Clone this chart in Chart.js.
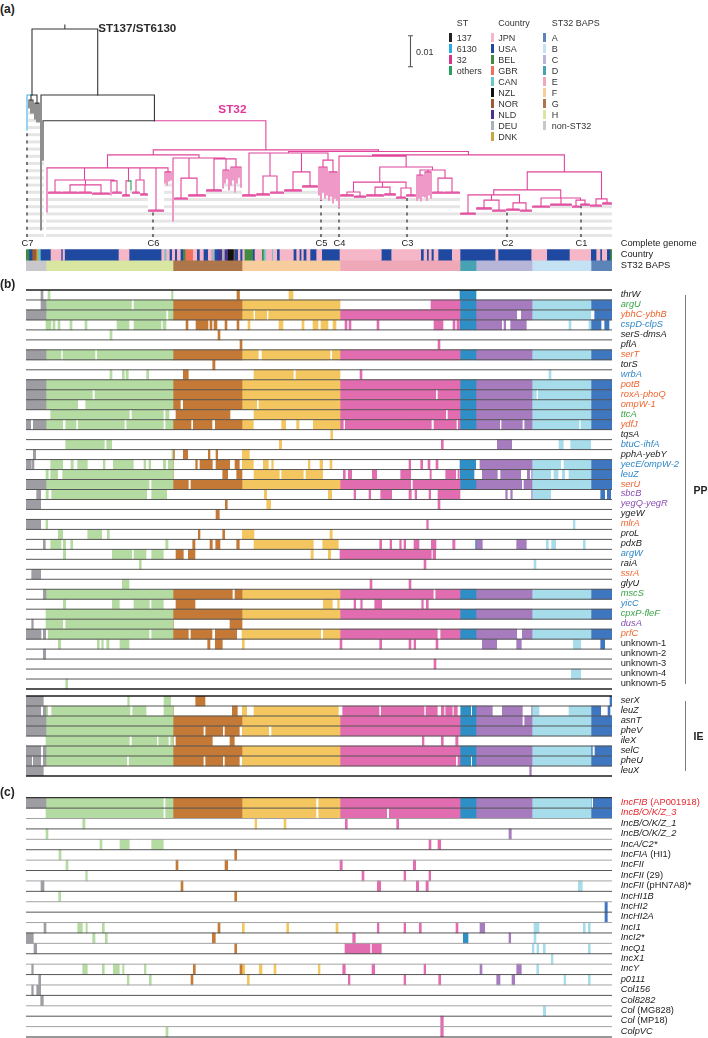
<!DOCTYPE html>
<html><head><meta charset="utf-8">
<script src="https://cdn.jsdelivr.net/npm/chart.js@4.4.1/dist/chart.umd.min.js"></script>
<style>
body{margin:0;background:#fff;}
#fig{position:relative;width:708px;height:1038px;overflow:hidden;background:#fff;font-family:"Liberation Sans",Arial,Helvetica,sans-serif;color:#222;}
.t{position:absolute;white-space:nowrap;line-height:1;}
.sw{position:absolute;}
</style></head><body><div id="fig"></div>
<script>
// ---------------- DATA ----------------
// isolate axis (tree order), position units 0..586
const axisEnd = 586;
const clusterNames = ['non-ST32','H','G','F','E','D','C','B','A'];
const clusterStarts = [0,20,147,216,314,434,450,506,565];
const clusterMatrixColors = ['#9d9da3','#b4dba1','#c47a36','#f3c660','#e16db0','#2e8fc6','#a67cbe','#a7dcea','#3f76c0'];
const clusterStripColors  = ['#c8c8cc','#d9e6a2','#ad774b','#f7cd9e','#efa8b7','#47a3b3','#b7b5d8','#c5e2f4','#5c84b8'];

const stLegend = ['137','6130','32','others'];
const stColors = ['#222222','#2aaae2','#d8338c','#26a05a'];
const countryCodes  = ['JPN','USA','BEL','GBR','CAN','NZL','NOR','NLD','DEU','DNK'];
const countryColors = ['#f5b7c7','#1f48a1','#3f8b40','#f0705b','#6ac7c6','#111111','#9b5a33','#4b318c','#a9b1bc','#cba443'];
const countrySegments = [
 [0,3.5,'BEL'],[3.5,6,'USA'],[6,10,'NOR'],[10,12.5,'DNK'],[12.5,15,'CAN'],[15,25,'USA'],[25,35,'JPN'],[35,37,'USA'],[37,38.5,'JPN'],
 [38.5,93,'USA'],[93,103,'JPN'],[103,135.7,'USA'],[135.7,138,'JPN'],[138,139,'DEU'],[139,140.7,'CAN'],[140.7,143.3,'JPN'],
 [143.3,146.3,'USA'],[146.3,148.7,'JPN'],[148.7,151.3,'USA'],[151.3,154.3,'JPN'],[154.3,156.7,'USA'],[156.7,159,'BEL'],
 [159,167.3,'GBR'],[167.3,170.7,'JPN'],[170.7,174,'USA'],[174,177.3,'JPN'],[177.3,182.3,'USA'],[182.3,185,'JPN'],[185,189,'DEU'],
 [189,192.3,'USA'],[192.3,195.7,'NLD'],[195.7,199,'DEU'],[199,202.3,'NLD'],[202.3,207.3,'NZL'],[207.3,209,'NOR'],[209,212.3,'USA'],
 [212.3,214,'JPN'],[214,216.7,'USA'],[216.7,218.3,'JPN'],[218.3,227.3,'BEL'],[227.3,229,'USA'],[229,235.7,'JPN'],[235.7,237.3,'BEL'],
 [237.3,240,'CAN'],[240,245.7,'JPN'],[245.7,247.3,'CAN'],[247.3,250.7,'JPN'],[250.7,254,'USA'],[254,267.3,'JPN'],[267.3,270.7,'USA'],
 [270.7,273.3,'JPN'],[273.3,275.7,'USA'],[275.7,277.3,'JPN'],[277.3,280.7,'USA'],[280.7,284,'JPN'],[284,290.7,'USA'],[290.7,295.7,'JPN'],
 [295.7,314,'USA'],[314,355.3,'JPN'],[355.3,365.7,'USA'],[365.7,394.7,'JPN'],[394.7,398,'USA'],[398,400.7,'JPN'],[400.7,403,'USA'],
 [403,405.3,'JPN'],[405.3,408,'USA'],[408,412,'JPN'],[412,426.3,'USA'],[426.3,434,'JPN'],[434,469.7,'USA'],[469.7,472,'JPN'],
 [472,505.7,'USA'],[505.7,520.7,'JPN'],[520.7,544,'USA'],[544,564.7,'JPN'],[564.7,570.7,'USA'],[570.7,574,'JPN'],[574,576.3,'USA'],
 [576.3,580.7,'JPN'],[580.7,584,'USA'],[584,586,'BEL']
];

// complete genomes (isolate positions) and labels
const genomeIsolates = [555,481,381,313,295,127,1];
const genomeLabels   = ['C1','C2','C3','C4','C5','C6','C7'];

// tree: depth in units of 0.001 substitutions/site; leaf {u:isolate, t:tip depth, s:ST}; comb {c:[first,last], d, t}
const st137Clade = {d:21.3, k:[
  {u:1, t:32.6, s:'6130'},
  {d:22.9, k:[{u:3,t:25.5,s:'137'},{u:5,t:27.1,s:'137'},{u:7,t:27.1,s:'137'}]},
  {d:23.9, k:[{u:9,t:29.0,s:'137'},{u:11,t:30.0,s:'137'},{u:13,t:30.0,s:'137'}]}
]};
const cladeH = {d:44.8, k:[
  {u:21, t:59.0},
  {d:48.7, k:[
    {c:[23,35], d:52.6, t:53.2},
    {d:50.3, k:[{c:[37,51], d:52.6, t:53.2},{c:[53,65], d:52.6, t:53.2},{c:[67,83], d:52.9, t:53.5}]},
    {d:49.0, k:[{u:85, t:53.5},{c:[87,95], d:52.6, t:53.2}]}
  ]},
  {d:49.0, k:[{c:[97,103], d:53.5, t:54.1},{u:105, t:51.9, s:'oth'}]},
  {d:48.7, k:[{c:[107,113], d:52.6, t:53.2},{c:[115,121], d:53.2, t:53.8}]},
  {c:[123,137], d:58.4, t:59.0},
  {d:46.1, k:[{u:139,t:49.7},{u:141,t:50.3},{u:143,t:49.0},{u:145,t:48.7}]}
]};
const cladeG = {d:41.6, k:[
  {u:147, t:61.9},
  {d:48.1, k:[{c:[149,161], d:54.5, t:55.1},{c:[163,179], d:53.5, t:54.1}]},
  {d:41.9, k:[
    {c:[181,195], d:51.9, t:52.5},
    {d:45.5, k:[{u:197,t:51.3},{u:199,t:49.7},{u:201,t:48.1},{u:203,t:51.9}]},
    {d:44.5, k:[{u:205,t:50.3},{u:207,t:48.7},{u:209,t:52.6},{u:211,t:49.7},{u:213,t:47.7},{u:215,t:51.0}]}
  ]}
]};
const cladeF = {d:40.0, k:[
  {c:[217,229], d:53.5, t:54.1},
  {d:47.4, k:[{c:[231,243], d:53.2, t:53.8},{c:[245,257], d:52.6, t:53.2}]},
  {d:46.1, k:[{c:[259,275], d:51.9, t:52.5},{c:[277,291], d:50.6, t:51.2}]},
  {d:42.3, k:[
    {d:44.5, k:[{u:293,t:53.5},{u:295,t:55.2},{u:297,t:52.6},{u:299,t:54.5},{u:301,t:53.5}]},
    {d:46.1, k:[{u:303,t:55.2},{u:305,t:53.9},{u:307,t:56.1},{u:309,t:54.5},{u:311,t:55.2}]}
  ]}
]};
const cladeE = {d:41.0, k:[
  {u:313, t:57.7},
  {d:44.5, k:[
    {d:49.4, k:[
      {d:52.6, k:[{c:[315,327], d:53.5, t:54.1},{c:[329,339], d:53.9, t:54.5}]},
      {d:51.0, k:[{c:[341,357], d:53.5, t:54.1},{c:[359,369], d:53.2, t:53.8}]},
      {d:51.3, k:[{c:[371,379], d:54.2, t:54.8},{c:[381,389], d:53.5, t:54.1}]}
    ]},
    {d:45.5, k:[
      {d:47.1, k:[{u:391,t:55.2},{u:393,t:54.5},{u:395,t:55.5},{u:397,t:53.9}]},
      {d:46.1, k:[{u:399,t:54.2},{u:401,t:55.2},{u:403,t:53.5},{u:405,t:54.5}]},
      {d:48.1, k:[{c:[407,417], d:52.6, t:53.2},{c:[419,433], d:52.6, t:53.2}]}
    ]}
  ]}
]};
const cladeDCBA = {d:46.1, k:[
  {d:51.9, k:[
    {d:53.5, k:[
      {c:[435,449], d:59.4, t:60.0},
      {d:55.2, k:[{c:[451,465], d:57.7, t:58.3},{c:[467,479], d:58.4, t:59.0}]},
      {d:56.1, k:[{c:[481,493], d:58.1, t:58.7},{c:[495,505], d:58.4, t:59.0}]}
    ]},
    {d:54.5, k:[
      {c:[507,523], d:57.1, t:57.7},
      {c:[525,545], d:56.5, t:57.1},
      {d:55.2, k:[{c:[547,553], d:57.1, t:57.7},{c:[555,563], d:56.5, t:57.1}]}
    ]}
  ]},
  {d:54.8, k:[{c:[565,575], d:56.8, t:57.4},{c:[577,585], d:56.1, t:56.7}]}
]};
const st32Root = {d:39.0, k:[
  {d:40.6, k:[cladeH, cladeG]},
  {d:39.5, k:[cladeF, {d:40.6, k:[cladeE, cladeDCBA]}]}
]};
const treeRoot = {d:0, k:[
  st137Clade,
  {d:21.3, k:[{u:15, t:64.8, s:'137'}, {d:29.6, k:[{u:17, t:42.3, s:'137'}, st32Root]}]}
]};
const rootStemDepth = -1.3;
const treeBaseDepth = 67.1;
const scaleBarValue = 10; // 0.01 substitutions/site

// panel (b): gene presence (PP)
const ppGenes = ['thrW','argU','ybhC-ybhB','cspD-clpS','serS-dmsA','pflA','serT','torS','wrbA','potB','roxA-phoQ','ompW-1','ttcA','ydfJ','tqsA','btuC-ihfA','pphA-yebY','yecE/ompW-2','leuZ','serU','sbcB','yegQ-yegR','ygeW','mlrA','proL','pdxB','argW','raiA','ssrA','glyU','mscS','yicC','cpxP-fleF','dusA','prfC','unknown-1','unknown-2','unknown-3','unknown-4','unknown-5'];
const ppLabelColors = ['k','g','o','b','k','k','o','k','b','o','o','o','g','o','k','b','k','b','b','o','p','p','k','o','k','k','b','k','o','k','g','b','g','p','o','k','k','k','k','k'];
const ppPresence = [
 [[15,17],[22,24],[145.5,147],[211,213.5],[263,267],[434,450]],
 [[15,105.5],[108,314],[405,586]],
 [[0,140],[142.5,227.3],[229.3,240.7],[242.7,490.7],[495.3,564.7],[568.7,586]],
 [[20,25],[27,29],[32,34],[44,46],[59,61],[91,103],[108,135],[137,140],[160,162],[170,182],[184,186],[188,191],[199,201],[211,213],[222,224],[253,257],[276,278],[287,292],[295,302],[307,310],[319,321],[323,325],[351,353],[408,417],[427,429],[431,433.5],[434,475.7],[478,479.7],[484.7,500.3],[543,545],[563,575],[578.7,583]],
 [[84,86],[192,194]],
 [[214,216],[412,414]],
 [[0,35],[37,69],[71.3,232.3],[236,304],[306.3,586]],
 [[186.7,189]],
 [[84,86],[96.3,98.3],[100,102.3],[120.7,122.7],[157.3,162.3],[228,267.3],[270,314],[334,336],[523,525]],
 [[0,586]],
 [[0,66.3],[69,409.7],[412,510.3],[512.3,586]],
 [[0,51.7],[59.7,154.3],[157.3,230.7],[233,586]],
 [[24.7,103.3],[106,137.3],[139.7,143],[150,204],[228,419.7],[422,586]],
 [[0,4.7],[7.3,36.7],[39.7,50],[52.3,98.3],[100.7,137.3],[139.7,165],[167.3,186],[189.3,227.3],[255.7,259.7],[270.7,273],[287.3,317.3],[319.3,405.3],[408,430.3],[432.3,473.7],[475.7,496.3],[498.7,553],[555,586]],
 [[304.7,306.7]],
 [[39.7,78.3],[80.7,85.7],[253.3,255.7],[415.3,417.3],[471.3,485.7],[533,537.3],[544.7,564.7]],
 [[7.3,9.7],[146,148.5],[157.3,161.7],[182.3,184],[190,191.7],[216.3,223.3]],
 [[0,4.7],[5.7,8],[24.7,36.7],[45,47.3],[51.7,61.3],[77.3,79],[87.3,107.3],[118,119.7],[123,124.7],[137.3,139.7],[142.3,147.3],[169.7,171.3],[174,186.3],[190,203.7],[209,213.3],[216.3,227.3],[237.3,242.3],[245.7,247.3],[282.3,284],[294,296.7],[304,306],[383,384.7],[394.7,396.7],[402,404],[410,412],[434,449.7],[454,534.7],[538,586]],
 [[20,22.3],[24.7,31.7],[36.7,147.3],[196.7,201.7],[210.7,216],[228,253.3],[255.7,277.3],[280,296.7],[317.3,319.3],[322.3,325.7],[346.3,350.7],[374.7,384.7],[404,405.3],[419.7,429.7],[432,433.3],[434.3,448],[456.3,471.3],[474.7,494.7],[501.3,503.7],[505.7,524.7],[528,532],[536.3,538.7],[543,586]],
 [[0,123],[125.7,162.3],[165,384.7],[387,495.7],[498,586]],
 [[10.7,14.7],[20,22.3],[25.7,120.7],[125.7,140.7],[238.3,240.7],[302.3,305.7],[328,329.7],[343,344.7],[354.7,365.7],[383,385.3],[389,390.7],[403,404.7],[412,434],[479.7,481.3],[484.7,486.3],[505.7,524.7],[574.7,578.7],[581.3,584.7]],
 [[0,14.7],[199.3,201.3],[240.7,244.7],[412,414]],
 [[190,193.3]],
 [[0,14.7],[20,21.7],[400.7,402.3],[547.3,549]],
 [[32.3,36.7],[61.7,75.7],[81.3,83.3],[172.3,174],[196.7,198.7],[216.3,228],[304,306.3]],
 [[17.3,19.3],[24.7,35],[37.3,39.7],[44.7,46.7],[139.7,142],[166.7,169],[184,186.3],[189.7,194],[210.7,213.3],[228,287.3],[296.7,312.3],[353.7,355.7],[364,365.7],[373.7,375.3],[378,379.7],[388,393],[405.3,410],[426.7,429],[449.7,456.3],[490.7,500.3],[520.3,522.3],[525.7,529.7],[557.3,559.3]],
 [[37.3,39.7],[86.3,105.7],[108,120],[125.7,137.3],[150,157.3],[162.3,169],[285,287.3],[302.3,304.7],[314,405.3],[407,409.7]],
 [[113.3,115.3],[398,400],[508,510]],
 [[5.7,14.7]],
 [[96.3,103],[344,346],[383,385]],
 [[17.3,206.3],[209,407.3],[409.7,586]],
 [[37.3,39.7],[86.3,93.3],[108,123.3],[125.7,137.3],[150,169],[297.3,306.3],[311.7,313.3],[328,329.7],[334.7,336.3],[348.7,355.7],[395.7,397.3],[400.3,402.3]],
 [[20,586]],
 [[5.7,7.3],[20,36.7],[39.7,147.3],[204,216]],
 [[0,15],[17.3,19.7],[22.3,123],[125.7,162.3],[165,186],[189.3,210.7],[216,294.7],[297.3,411.3],[414.7,490.7],[496.3,586]],
 [[32.3,34.7],[71.3,73.3],[75.7,77.3],[80.7,83],[94,103],[181.7,184],[189.3,196.3],[216.3,218.3],[314,316],[353.7,355.7],[383,385],[388,389.7],[410,412],[456.3,470.7],[490.7,495.3],[547.3,554.7],[574.7,578.7]],
 [[17.3,19.7]],
 [[408,410]],
 [[545.3,554.7]],
 [[39.7,41.7]]
];

// panel (b): IE
const ieGenes = ['serX','leuZ','asnT','pheV','ileX','selC','pheU','leuX'];
const iePresence = [
 [[0,17.3],[101.7,103.3],[138,144.7],[169.7,179],[584,586]],
 [[0,14.7],[17.3,21.7],[25.7,104],[106.7,120],[138,147.3],[206.3,211.3],[216.3,220.7],[228,312.3],[316.7,353],[355.3,398],[400,411.3],[415.3,418],[419.7,426.3],[428,431.3],[434.7,444.7],[446.3,466.3],[476.3,496.3],[505.7,513],[543,574.7],[582,584]],
 [[0,496.3],[498.7,586]],
 [[0,177.3],[179.7,196.7],[199,213.3],[216.3,242.7],[245.7,586]],
 [[20,103.3],[106,130.7],[132.7,142.3],[144.7,147.3],[150,186.3],[204,208.3],[396.3,398],[415.3,417.3],[429.7,432]],
 [[0,14.7],[17.3,566.3],[569,586]],
 [[0,5.7],[7.3,14.7],[17.3,100.7],[103.3,177.3],[179.7,196.7],[199,213.3],[216.3,429.7],[432,444.7],[446.3,586]],
 [[0,17.3],[503.7,505.3]]
];

// panel (c): plasmid replicons
const plasmidNames = ['IncFIB (AP001918)','IncB/O/K/Z_3','IncB/O/K/Z_1','IncB/O/K/Z_2','IncA/C2*','IncFIA (HI1)','IncFII','IncFII (29)','IncFII (pHN7A8)*','IncHI1B','IncHI2','IncHI2A','IncI1','IncI2*','IncQ1','IncX1','IncY','p0111','Col156','Col8282','Col (MG828)','Col (MP18)','ColpVC'];
const plasmidLabelColors = ['r','r','k','k','k','k','k','k','k','k','k','k','k','k','k','k','k','k','k','k','k','k','k'];
const plasmidPresence = [
 [[0,137.3],[139.7,290],[292.7,565.3],[567.3,586]],
 [[20,137.3],[139.7,290],[292.7,360.7],[363.3,586]],
 [[56.7,59],[229,230.7],[258,260],[319.3,321.3],[370.7,372.7]],
 [[20,22],[483,485.3]],
 [[74,76],[94,103.3],[125.7,137.3],[403,405],[412,414.7]],
 [[33,35],[208.7,210.7]],
 [[40,42],[150,152],[199,201.7],[314,316.3],[387.3,389.7]],
 [[59.7,61.3],[336,338],[378,379.7],[403,404.7]],
 [[15,18],[155,157],[351.3,354.7],[390.3,392.7],[400,402.3],[552.3,556.3]],
 [[32.7,34.7],[208.7,210.7]],
 [[579,581.3]],
 [[579,581.3]],
 [[18,20],[51.7,56.3],[60,61.3],[76.3,78.3],[192,194],[216.3,218.3],[260.7,262.7],[310,312],[351.3,353],[378,379.7],[393.3,395.3],[430,432],[454,458.7],[508,513],[557.3,559.3],[562.3,564.3]],
 [[0,7.3],[66.7,69],[79.3,81.3],[186.3,189.3],[326.7,329.3],[437.3,442],[483,484.7],[508,510]],
 [[8,10.7],[208.7,210.7],[319,344],[346,355.3],[506.3,508],[511,512.7],[517.3,519.3],[562.3,564.3]],
 [[525.3,527]],
 [[5.7,7.3],[56.7,61.3],[76.3,78.3],[87.3,93.3],[96.7,98],[118.3,120],[167.3,169.3],[214,218.7],[233.3,236],[248,250],[292.3,294],[316.7,319.3],[346,348.7],[398,399.7],[454,456],[490.7,495.3],[510.7,512.7]],
 [[12.7,14.7],[101.3,103],[123.3,125.3],[165,167],[221.3,223.3],[322.3,324],[378,379.7],[412.7,414.7],[470.7,474],[486,488.7],[538,539.7],[562.3,564.3]],
 [[5.7,7.3],[10.7,14.7]],
 [[14.7,17.3]],
 [[517.3,519.7]],
 [[414.7,417.3]],
 [[140,142],[414.7,417.3]]
];

// ---------------- DRAWING ----------------
const fig = document.getElementById('fig');
const W = 708, PLOT_L = 26, PLOT_R = 612, LABEL_X = 620.7;
const labelPalette = {k:'#222222', g:'#3aa449', o:'#f0652f', b:'#2e86c8', p:'#8a4fb2', r:'#e8262e'};
const treeColors = {'32':'#e0459b','137':'#353535','6130':'#3cb1e3','oth':'#2b9f57','mix':'#353535'};

function txt(html, x, y, css, center){
  const d = document.createElement('div');
  d.className = 't'; d.innerHTML = html;
  d.style.cssText = `left:${x}px;top:${y}px;transform:${center ? 'translate(-50%,-50%)' : 'translateY(-50%)'};` + (css||'');
  fig.appendChild(d); return d;
}
function box(x, y, w, h, css){
  const d = document.createElement('div'); d.className = 'sw';
  d.style.cssText = `left:${x}px;top:${y}px;width:${w}px;height:${h}px;` + css;
  fig.appendChild(d); return d;
}
function makeChart(top, bottom, type, data, extra, plugins){
  const ct = Math.floor(top) - 4, cb = Math.ceil(bottom) + 4;
  const cv = document.createElement('canvas');
  cv.width = W; cv.height = cb - ct;
  cv.style.cssText = `position:absolute;left:0;top:${ct}px;width:${W}px;height:${cb-ct}px;`;
  cv.$top = ct;
  fig.appendChild(cv);
  const options = Object.assign({
    responsive:false, maintainAspectRatio:false, animation:false, devicePixelRatio:1, events:[],
    layout:{padding:{left:PLOT_L, right:W-PLOT_R, top:top-ct, bottom:cb-bottom}},
    plugins:{legend:{display:false}, tooltip:{enabled:false}, title:{display:false}}
  }, extra);
  const ch = new Chart(cv, {type, data, options, plugins:plugins||[]});
  ch.$top = ct;
  return ch;
}
function clusterRange(k){ return [clusterStarts[k], k+1 < clusterStarts.length ? clusterStarts[k+1] : axisEnd]; }

function matrix(names, presence, top, bottom, lineStyle){
  const ds = clusterNames.map((n,k)=>({label:n, data:[], backgroundColor:clusterMatrixColors[k], borderWidth:0,
    barPercentage:1, categoryPercentage:1, grouped:false}));
  presence.forEach((segs,i)=>segs.forEach(([a,b])=>{
    clusterNames.forEach((n,k)=>{
      const [s,e] = clusterRange(k); const lo = Math.max(a,s), hi = Math.min(b,e);
      if (hi > lo) ds[k].data.push({x:[lo,hi], y:names[i]});
    });
  }));
  const rowLines = {id:'rowlines', afterDatasetsDraw(ch){
    const ys = ch.scales.y, ca = ch.chartArea, ctx = ch.ctx, n = names.length;
    ctx.save();
    for (let i = 0; i <= n; i++){
      const [c,w] = lineStyle(i,n);
      const y = ys.getPixelForValue(i - 0.5);
      ctx.strokeStyle = c; ctx.lineWidth = w;
      ctx.beginPath(); ctx.moveTo(ca.left, y); ctx.lineTo(ca.right, y); ctx.stroke();
    }
    ctx.restore();
  }};
  return makeChart(top, bottom, 'bar', {labels:names, datasets:ds}, {
    indexAxis:'y',
    scales:{x:{type:'linear', min:0, max:axisEnd, display:false}, y:{type:'category', display:false, offset:true}}
  }, [rowLines]);
}
function rowLabels(ch, names, fmt){
  const ys = ch.scales.y;
  names.forEach((nm,i)=>{
    const y = ch.$top + ys.getPixelForValue(i);
    const f = fmt(nm,i);
    txt(f.html, LABEL_X, y, `font-size:9.3px;color:${f.color};`);
  });
}

// ---- tree ----
function lay(n){
  if (n.u !== undefined){ n.x = n.u; n.top = n.t; n.st = n.s || '32'; return; }
  if (n.c){ n.x = (n.c[0]+n.c[1])/2; n.top = n.d; n.st = '32'; return; }
  n.k.forEach(lay);
  n.x = (n.k[0].x + n.k[n.k.length-1].x)/2; n.top = n.d;
  const s = new Set(n.k.map(c=>c.st));
  if (s.size === 1) n.st = [...s][0];
  else if (s.has('32') && !s.has('137') && !s.has('6130') && !s.has('mix')) n.st = '32';
  else n.st = 'mix';
}
const segs = {}; const tips = []; const combTipPts = [];
function addSeg(st, x0, y0, x1, y1){ (segs[st] = segs[st] || []).push({x:x0,y:y0},{x:x1,y:y1},{x:NaN,y:NaN}); }
function walk(n, pd){
  if (pd !== undefined) addSeg(n.st, n.x, pd, n.x, n.top);
  if (n.u !== undefined){ tips.push([n.u, n.t]); return; }
  if (n.c){
    addSeg('32', n.c[0], n.d, n.c[1], n.d);
    for (let u = n.c[0]; u <= n.c[1]; u += 2){ combTipPts.push({x:u,y:n.d},{x:u,y:n.t},{x:NaN,y:NaN}); tips.push([u, n.t]); }
    return;
  }
  n.k.forEach(ch=>{ addSeg(ch.st, n.x, n.d, ch.x, n.d); walk(ch, n.d); });
}
lay(treeRoot);
addSeg(treeRoot.st, treeRoot.x, rootStemDepth, treeRoot.x, 0);
walk(treeRoot);
const tipDepth = new Map(tips);
const dotPts = [];
tips.forEach(([u,t])=>{ dotPts.push({x:u,y:treeBaseDepth},{x:u,y:t},{x:NaN,y:NaN}); });
const genomePts = [];
genomeIsolates.forEach(u=>{ genomePts.push({x:u,y:treeBaseDepth},{x:u,y:tipDepth.get(u)},{x:NaN,y:NaN}); });

const treeDatasets = [];
Object.keys(segs).forEach(st=>{
  treeDatasets.push({data:segs[st], showLine:true, pointRadius:0, borderColor:treeColors[st], borderWidth:1.1,
    borderCapStyle:'square', fill:false, spanGaps:false, clip:false, order: st==='32' ? 2 : 1});
});
treeDatasets.push({data:combTipPts, showLine:true, pointRadius:0, borderColor:treeColors['32'], borderWidth:0.8,
  fill:false, spanGaps:false, clip:false, order:3});
treeDatasets.push({data:genomePts, showLine:true, pointRadius:0, borderColor:'#3a3a3a', borderWidth:1.3,
  borderDash:[3,4.2], fill:false, spanGaps:false, clip:false, order:4});
treeDatasets.push({data:dotPts, showLine:true, pointRadius:0, borderColor:'#c6c6c6', borderWidth:0.9,
  borderDash:[3,4.2], fill:false, spanGaps:false, clip:false, order:5});

const yMinTree = -1.5, treeTopPx = 29 + yMinTree*3.1;
const scaleBarPlugin = {id:'scalebar', afterDraw(ch){
  const ys = ch.scales.y, ctx = ch.ctx, top = ch.canvas.$top;
  const len = ys.getPixelForValue(scaleBarValue) - ys.getPixelForValue(0);
  const x = 410.5, y0 = 35.7 - top;
  ctx.save(); ctx.strokeStyle = '#555'; ctx.lineWidth = 1.1;
  ctx.beginPath();
  ctx.moveTo(x, y0); ctx.lineTo(x, y0+len);
  ctx.moveTo(x-2.5, y0); ctx.lineTo(x+2.5, y0);
  ctx.moveTo(x-2.5, y0+len); ctx.lineTo(x+2.5, y0+len);
  ctx.stroke(); ctx.restore();
}};
const treeChart = makeChart(treeTopPx, 237, 'scatter', {datasets:treeDatasets}, {
  scales:{x:{type:'linear', min:0, max:axisEnd, display:false}, y:{type:'linear', min:yMinTree, max:treeBaseDepth, reverse:true, display:false}}
}, [scaleBarPlugin]);

// complete genome labels
genomeIsolates.forEach((u,i)=>{
  const x = treeChart.scales.x.getPixelForValue(u);
  txt(genomeLabels[i], x + 0.5, 243.5, 'font-size:9.3px;color:#222;', true);
});

// ---- strips: country + BAPS ----
(function(){
  const ds = [];
  countryCodes.forEach((c,k)=>{
    ds.push({label:c, data:countrySegments.filter(s=>s[2]===c).map(s=>({x:[s[0],s[1]], y:'Country'})),
      backgroundColor:countryColors[k], borderWidth:0, barPercentage:1, categoryPercentage:1, grouped:false});
  });
  clusterNames.forEach((n,k)=>{
    const [s,e] = clusterRange(k);
    ds.push({label:n, data:[{x:[s,e], y:'ST32 BAPS'}], backgroundColor:clusterStripColors[k], borderWidth:0,
      barPercentage:1, categoryPercentage:1, grouped:false});
  });
  const sc = makeChart(249.3, 271, 'bar', {labels:['Country','ST32 BAPS'], datasets:ds}, {
    indexAxis:'y',
    scales:{x:{type:'linear', min:0, max:axisEnd, display:false}, y:{type:'category', display:false, offset:true}}
  });
  txt('Complete genome', LABEL_X, 244, 'font-size:9.3px;color:#222;');
  ['Country','ST32 BAPS'].forEach((l,i)=>txt(l, LABEL_X, sc.$top + sc.scales.y.getPixelForValue(i), 'font-size:9.3px;color:#222;'));
})();

// ---- panel b ----
const darkStyle = (i,n)=> (i===0 || i===n) ? ['#1e1e1e',1.4] : ['#555555',1];
const ppChart = matrix(ppGenes, ppPresence, 290, 689, darkStyle);
rowLabels(ppChart, ppGenes, (nm,i)=>({html: nm.startsWith('unknown') ? nm : `<i>${nm}</i>`, color: labelPalette[ppLabelColors[i]]}));
const ieChart = matrix(ieGenes, iePresence, 696, 776, darkStyle);
rowLabels(ieChart, ieGenes, nm=>({html:`<i>${nm}</i>`, color:'#222'}));

// ---- panel c ----
const plStyle = (i,n)=> (i===0 || i===n) ? ['#333333',1.2] : (i%2===1 ? ['#555555',1] : ['#a3a3a3',1]);
const plChart = matrix(plasmidNames, plasmidPresence, 797.7, 1037, plStyle);
rowLabels(plChart, plasmidNames, (nm,i)=>{
  const sp = nm.indexOf(' ');
  const html = sp < 0 ? `<i>${nm}</i>` : `<i>${nm.slice(0,sp)}</i>${nm.slice(sp)}`;
  return {html, color: labelPalette[plasmidLabelColors[i]]};
});

// brackets PP / IE
function bracket(ch, n, label){
  const ys = ch.scales.y;
  const y0 = ch.$top + ys.getPixelForValue(0), y1 = ch.$top + ys.getPixelForValue(n-1);
  box(685, y0, 0, y1-y0, 'border-left:1.2px solid #7d7d7d;');
  txt(label, 693.5, (y0+y1)/2, 'font-size:10.5px;font-weight:bold;color:#222;');
}
bracket(ppChart, ppGenes.length, 'PP');
bracket(ieChart, ieGenes.length, 'IE');

// ---- titles / panel labels ----
txt('(a)', 0, 8.5, 'font-size:12px;font-weight:bold;');
txt('(b)', 0, 283.5, 'font-size:12px;font-weight:bold;');
txt('(c)', 0, 791.5, 'font-size:12px;font-weight:bold;');
txt('ST137/ST6130', 98.3, 28.3, 'font-size:11.6px;font-weight:bold;color:#2a2a2a;');
txt('ST32', 218.3, 110, 'font-size:11.8px;font-weight:bold;color:#e0369a;');
txt('0.01', 416, 51.7, 'font-size:9px;color:#333;');

// ---- legend ----
const legendRowY = k => 37.7 + 11*k;
txt('ST', 456.7, 23.3, 'font-size:9px;color:#333;');
stLegend.forEach((s,k)=>{ box(449, legendRowY(k)-4.6, 3, 9.2, `background:${stColors[k]};`); txt(s, 456.7, legendRowY(k), 'font-size:9px;color:#333;'); });
txt('Country', 498.3, 23.3, 'font-size:9px;color:#333;');
countryCodes.forEach((c,k)=>{ box(491, legendRowY(k)-4.6, 3, 9.2, `background:${countryColors[k]};`); txt(c, 498.3, legendRowY(k), 'font-size:9px;color:#333;'); });
txt('ST32 BAPS', 551.7, 23.3, 'font-size:9px;color:#333;');
const bapsOrder = [8,7,6,5,4,3,2,1,0];
bapsOrder.forEach((ci,k)=>{ box(543.3, legendRowY(k)-4.6, 3, 9.2, `background:${clusterStripColors[ci]};`); txt(clusterNames[ci], 551.7, legendRowY(k), 'font-size:9px;color:#333;'); });
</script></body></html>
